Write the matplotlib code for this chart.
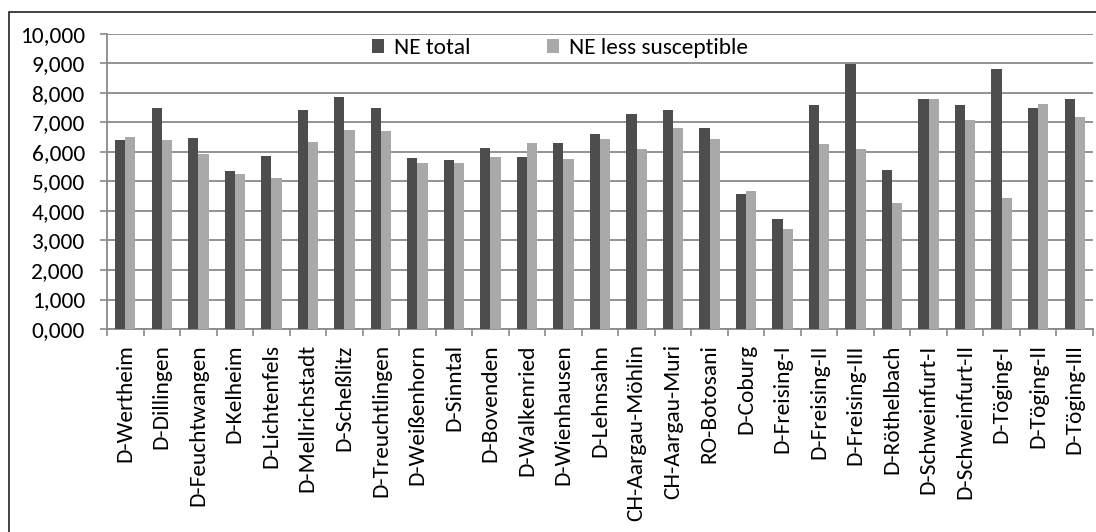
import matplotlib.pyplot as plt
import matplotlib.patches as patches
import numpy as np

plt.rcParams['font.family'] = ['Carlito', 'DejaVu Sans']

# Standorte und Werte
sites = ['D-Wertheim', 'D-Dillingen', 'D-Feuchtwangen', 'D-Kelheim', 'D-Lichtenfels',
         'D-Mellrichstadt', 'D-Scheßlitz', 'D-Treuchtlingen', 'D-Weißenhorn', 'D-Sinntal',
         'D-Bovenden', 'D-Walkenried', 'D-Wienhausen', 'D-Lehnsahn', 'CH-Aargau-Möhlin',
         'CH-Aargau-Muri', 'RO-Botosani', 'D-Coburg', 'D-Freising-I', 'D-Freising-II',
         'D-Freising-III', 'D-Röthelbach', 'D-Schweinfurt-I', 'D-Schweinfurt-II',
         'D-Töging-I', 'D-Töging-II', 'D-Töging-III']
ne_total = [6.40, 7.50, 6.47, 5.37, 5.85, 7.43, 7.85, 7.50, 5.79, 5.74,
            6.13, 5.83, 6.29, 6.62, 7.28, 7.42, 6.82, 4.59, 3.73, 7.59,
            8.98, 5.40, 7.79, 7.59, 8.80, 7.49, 7.79]
ne_less = [6.50, 6.41, 5.94, 5.26, 5.11, 6.34, 6.76, 6.70, 5.63, 5.63,
           5.82, 6.32, 5.75, 6.43, 6.11, 6.83, 6.44, 4.67, 3.38, 6.26,
           6.11, 4.28, 7.79, 7.09, 4.45, 7.63, 7.19]
yticks = [0, 1, 2, 3, 4, 5, 6, 7, 8, 9, 10]

dark = '#4d4d4d'
light = '#a9a9a9'
grid = '#8a8a8a'
fs = 16.8

fig = plt.figure(figsize=(10.96, 5.32), dpi=100)
W, H = 1096, 532

# Rahmen um das Diagramm
fig.patches.append(patches.Rectangle((9 / W, -0.1), 1.2, (532 - 12) / H + 0.1,
                                     transform=fig.transFigure, fill=False,
                                     edgecolor='#222222', linewidth=1.2))

ax = fig.add_axes([107 / W, (H - 329) / H, (1093 - 107) / W, (329 - 34) / H])

x = np.arange(len(sites))
w = 0.28
ax.bar(x - w / 2, ne_total, w, color=dark, label='NE total', zorder=3)
ax.bar(x + w / 2, ne_less, w, color=light, label='NE less susceptible', zorder=3)

ax.set_xlim(-0.5, len(sites) - 0.5)
ax.set_ylim(0, 10)
ax.set_yticks(yticks)
ax.set_yticklabels([f'{v:.3f}'.replace('.', ',') for v in yticks], fontsize=fs)
ax.yaxis.grid(True, color=grid, linewidth=1.3, zorder=0)
ax.set_axisbelow(True)

ax.set_xticks(x)
ax.set_xticklabels(sites, rotation=90, fontsize=fs, va='top', ha='center')
ax.set_xticks(np.arange(len(sites) + 1) - 0.5, minor=True)
ax.tick_params(axis='x', which='major', length=0, pad=11)
ax.tick_params(axis='x', which='minor', length=5, width=1.2, color=grid)
ax.tick_params(axis='y', length=5, width=1.2, color=grid, pad=11)

for s in ['top', 'right']:
    ax.spines[s].set_visible(False)
for s in ['left', 'bottom']:
    ax.spines[s].set_color(grid)
    ax.spines[s].set_linewidth(1.3)

leg = ax.legend(loc='center', bbox_to_anchor=(560 / W, (H - 48) / H),
                bbox_transform=fig.transFigure, ncol=2, frameon=False,
                fontsize=fs, handlelength=0.52, handleheight=0.52,
                handletextpad=0.4, columnspacing=3.3, borderpad=0)

fig.savefig('out.png', dpi=100)
